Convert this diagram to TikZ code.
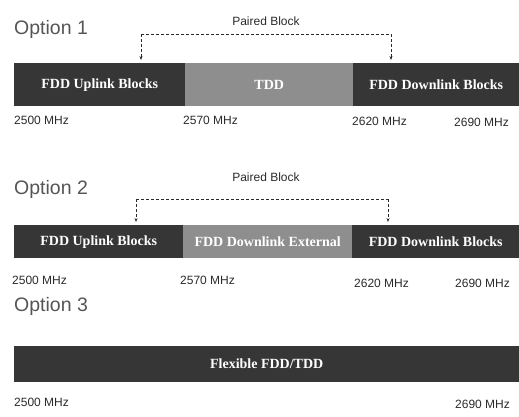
\documentclass[tikz,border=0pt]{standalone}
\usepackage{fontspec}
\setmainfont{Liberation Sans}
\newfontfamily\barfont{Liberation Serif}
\usetikzlibrary{arrows.meta}
\definecolor{darkblk}{HTML}{363636}
\definecolor{midgray}{HTML}{8E8E8E}
\definecolor{txtgray}{HTML}{2A2A2A}
\definecolor{ttlgray}{HTML}{555555}
\begin{document}
\begin{tikzpicture}[x=1pt,y=-1pt,
  segfont/.style={font=\barfont\bfseries\fontsize{14}{15}\selectfont},
  darkseg/.style={fill=darkblk, draw=none, anchor=north west, inner sep=0pt, text=white, segfont},
  graseg/.style={fill=midgray, draw=none, anchor=north west, inner sep=0pt, text=white, segfont},
  freq/.style={text=txtgray, font=\fontsize{12}{13}\selectfont, inner sep=0pt, anchor=west},
  ttl/.style={text=ttlgray, font=\fontsize{19.5}{22}\selectfont, anchor=west, inner sep=0pt},
  pair/.style={text=txtgray, font=\fontsize{12}{13}\selectfont, inner sep=0pt},
  pline/.style={densely dashed, line width=0.6pt, draw=txtgray},
  parr/.style={pline, -{Stealth[length=4pt,width=3pt]}}]
\useasboundingbox (0,0) rectangle (519,416);
% Option 1
\node[ttl] (t1) at (14,29) {Option 1};
\node[pair] (p1) at (266,21) {Paired Block};
\node[darkseg, minimum width=171, minimum height=43] (a1) at (14,63) {FDD Uplink Blocks};
\node[graseg, minimum width=168, minimum height=43] (b1) at (185,63) {TDD};
\node[darkseg, minimum width=166, minimum height=43] (c1) at (353,63) {FDD Downlink Blocks};
\coordinate (l1) at (141,34);
\coordinate (r1) at (391,34);
\draw[pline] (l1) -- (r1);
\draw[parr] (l1) -- (141,60);
\draw[parr] (r1) -- (391,60);
\node[freq] (f11) at (14,120) {2500 MHz};
\node[freq] (f12) at (183,120) {2570 MHz};
\node[freq] (f13) at (352,121) {2620 MHz};
\node[freq] (f14) at (454,122) {2690 MHz};
% Option 2
\node[ttl] (t2) at (14,189) {Option 2};
\node[pair] (p2) at (266,177) {Paired Block};
\node[darkseg, minimum width=169, minimum height=33] (a2) at (14,225) {FDD Uplink Blocks};
\node[graseg, minimum width=169, minimum height=33] (b2) at (183,225) {FDD Downlink External};
\node[darkseg, minimum width=167, minimum height=33] (c2) at (352,225) {FDD Downlink Blocks};
\coordinate (l2) at (136,199);
\coordinate (r2) at (388,199);
\draw[pline] (l2) -- (r2);
\draw[parr] (l2) -- (136,222);
\draw[parr] (r2) -- (388,222);
\node[freq] (f21) at (12,280) {2500 MHz};
\node[freq] (f22) at (180,280) {2570 MHz};
\node[freq] (f23) at (354,283) {2620 MHz};
\node[freq] (f24) at (455,283) {2690 MHz};
% Option 3
\node[ttl] (t3) at (14,306) {Option 3};
\node[darkseg, minimum width=505, minimum height=36] (a3) at (14,346) {Flexible FDD/TDD};
\node[freq] (f31) at (14,402) {2500 MHz};
\node[freq] (f32) at (455,404) {2690 MHz};
\end{tikzpicture}
\end{document}
